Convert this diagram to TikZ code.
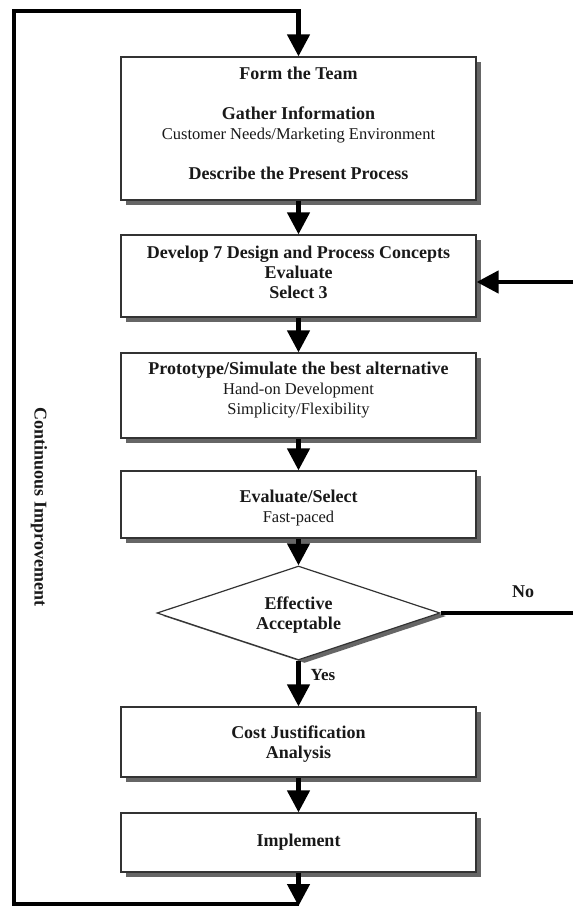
\documentclass[tikz,border=0pt]{standalone}
\usepackage{fontspec}
\setmainfont{Liberation Serif}
\usetikzlibrary{arrows.meta,shapes.geometric,shadows}
\newcommand\plainline[1]{{\fontsize{16.5}{20}\selectfont\mdseries #1}}
\begin{document}
\begin{tikzpicture}[x=1pt,y=-1pt,
  every node/.style={font=\fontsize{18}{20}\selectfont\bfseries, text=black!90},
  boxshadow/.style={drop shadow={shadow xshift=5pt, shadow yshift=-5pt, fill=black!60, opacity=1}},
  stage/.style={draw=black!80, line width=1.2pt, fill=white, minimum width=355pt,
    inner sep=0pt, boxshadow},
  decision/.style={diamond, draw=black!80, line width=1.2pt, fill=white,
    minimum width=283pt, minimum height=94pt, aspect=3, inner sep=0pt,
    drop shadow={shadow xshift=6pt, shadow yshift=-3pt, fill=black!60, opacity=1}},
  caption/.style={align=center, inner sep=0pt},
  flow/.style={line width=4.5pt, -{Triangle[length=22pt,width=22pt]}},
  trunk/.style={line width=4.5pt},
]
\useasboundingbox (0,0) rectangle (573,907);
\fill[white] (0,0) rectangle (573,907);

% process stages
\node[stage, minimum height=143pt] (team) at (298.5,128.5) {};
\node[caption] (team-t) at ([yshift=5pt]team.center)
  {Form the Team\\[20pt]Gather Information\\\plainline{Customer Needs/Marketing Environment}\\[20pt]Describe the Present Process};
\node[stage, minimum height=82pt] (concepts) at (298.5,276) {};
\node[caption] (concepts-t) at ([yshift=4pt]concepts.center)
  {Develop 7 Design and Process Concepts\\Evaluate\\Select 3};
\node[stage, minimum height=85pt] (proto) at (298.5,395.5) {};
\node[caption] (proto-t) at ([yshift=5pt]proto.center)
  {Prototype/Simulate the best alternative\\\plainline{Hand-on Development}\\\plainline{Simplicity/Flexibility}};
\node[stage, minimum height=67pt] (evalsel) at (298.5,504.5) {};
\node[caption] (evalsel-t) at ([yshift=-4pt]evalsel.center)
  {Evaluate/Select\\\plainline{Fast-paced}};
\node[decision] (check) at (298.5,613) {};
\node[caption] (check-t) at ([yshift=-2pt]check.center) {Effective\\Acceptable};
\node[stage, minimum height=70pt] (cost) at (298.5,742) {};
\node[caption] (cost-t) at ([yshift=-2pt]cost.center) {Cost Justification\\Analysis};
\node[stage, minimum height=59pt] (impl) at (298.5,842.5) {};
\node[caption] (impl-t) at (impl.center) {Implement};

% loop-back coordinates
\coordinate (tip) at (298.5,906);
\coordinate (bottomline) at (298.5,904);
\coordinate (bl) at (14,904);
\coordinate (tl) at (14,11);
\coordinate (rightin) at (573,282);
\coordinate (noend) at (573,613);

% main flow
\draw[flow] (team.south) -- (concepts.north);
\draw[flow] (concepts.south) -- (proto.north);
\draw[flow] (proto.south) -- (evalsel.north);
\draw[flow] (evalsel.south) -- (check.north);
\draw[flow] (check.south) -- (cost.north);
\draw[flow] (cost.south) -- (impl.north);
\draw[flow] (impl.south) -- (tip);

% continuous improvement loop
\draw[flow] (bottomline) -- (bl) -- (tl) -- (team.north |- tl) -- (team.north);
\node[rotate=-90] (ci) at (39,507) {Continuous Improvement};

% rejection branch
\draw[trunk] (check.east) -- (noend);
\node (no) at (523,592) {No};
\draw[flow] (rightin) -- (concepts.east |- rightin);
\node[font=\fontsize{17}{20}\selectfont\bfseries] (yes) at (323,675) {Yes};
\end{tikzpicture}
\end{document}
